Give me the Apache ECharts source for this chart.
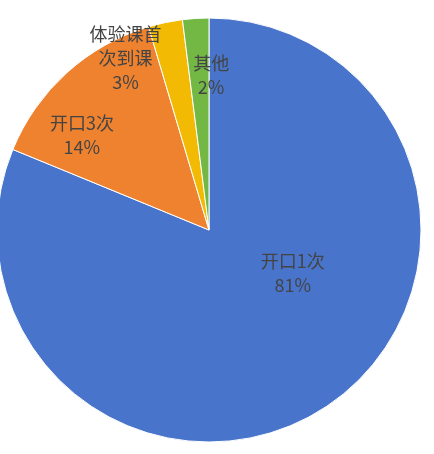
<!DOCTYPE html>
<html>
<head>
<meta charset="utf-8">
<script src="https://cdn.jsdelivr.net/npm/echarts@6/dist/echarts.min.js"></script>
<style>html,body{margin:0;padding:0;background:#fff;}#c{width:434px;height:454px;}</style>
</head>
<body>
<div id="c"></div>
<script>
const categories = ['开口1次', '开口3次', '体验课首次到课', '其他'];
const values = [81.2, 14.2, 2.6, 2.0];
const colors = ['#4874CB', '#EE822F', '#F2BA02', '#73B845'];

const labelOffsets = [[23, -47], [-54, -14], [-61, -65], [9, -46]];

const chart = echarts.init(document.getElementById('c'));
chart.setOption({
  animation: false,
  color: colors,
  series: [{
    type: 'pie',
    center: [209, 230],
    radius: 212,
    startAngle: 90,
    clockwise: true,
    itemStyle: { borderColor: '#fff', borderWidth: 1 },
    label: {
      position: 'inside',
      fontFamily: '"Noto Sans CJK SC", sans-serif',
      fontSize: 18,
      lineHeight: 24,
      color: '#444',
      align: 'center',
      formatter: function (p) {
        const n = p.name.length > 4 ? p.name.slice(0, 4) + '\n' + p.name.slice(4) : p.name;
        return n + '\n' + Math.round(p.percent) + '%';
      }
    },
    labelLine: { show: false },
    emphasis: { disabled: true },
    data: categories.map((n, i) => ({ name: n, value: values[i], label: { offset: labelOffsets[i] } }))
  }]
});
</script>
</body>
</html>
